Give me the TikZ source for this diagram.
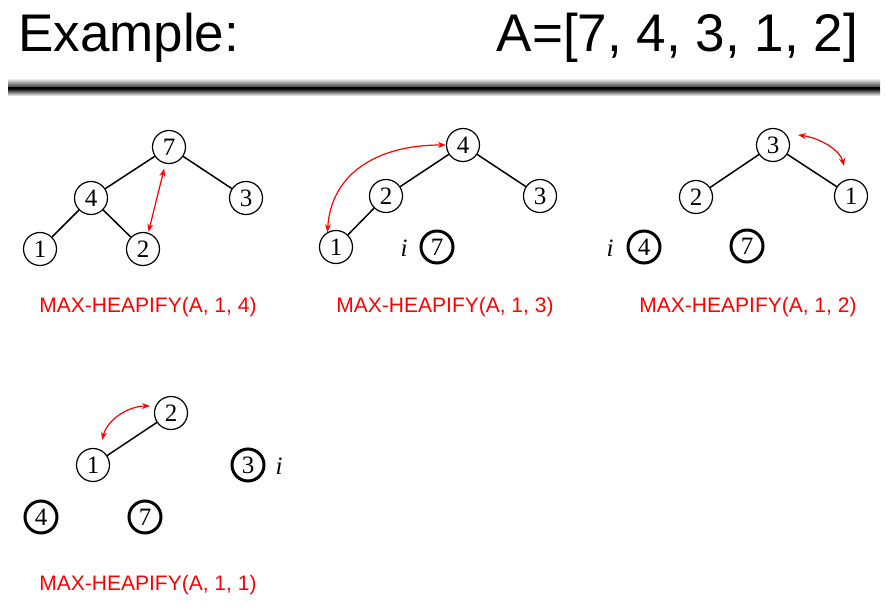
\documentclass[tikz,border=0pt]{standalone}
\usepackage{fontspec}
\setmainfont{Liberation Serif}
\newfontfamily\arialf{Liberation Sans}
\usetikzlibrary{arrows.meta}
\begin{document}
\begin{tikzpicture}[x=1pt,y=-1pt,
  vtx/.style={circle,draw,line width=1.2pt,minimum size=33pt,inner sep=0pt,font=\fontsize{25}{25}\selectfont},
  done/.style={vtx,line width=3pt,minimum size=32pt},
  edge/.style={line width=1.5pt},
  swap/.style={red,line width=1.2pt,{Stealth[length=8pt,width=6pt]}-{Stealth[length=8pt,width=6pt]}},
  lbl/.style={red,anchor=base,font=\arialf\fontsize{21}{21}\selectfont},
  ilbl/.style={font=\itshape\fontsize{25}{25}\selectfont,inner sep=0pt}]
\useasboundingbox (0,0) rectangle (886,607);
% title
\node[anchor=base west,inner sep=0pt,font=\arialf\fontsize{53}{53}\selectfont] (title) at (18,52) {Example:};
\node[anchor=base east,inner sep=0pt,font=\arialf\fontsize{53}{53}\selectfont] (arr) at (858,52) {A=[7, 4, 3, 1, 2]};
% rule
\shade[top color=white,bottom color=black!75] (8,78) rectangle (880,87);
\fill[black] (8,87) rectangle (880,90);
\shade[top color=black!80,bottom color=white] (8,90) rectangle (880,96);
% tree 1
\node[vtx] (t1a) at (169,147) {7};
\node[vtx] (t1b) at (91,198) {4};
\node[vtx] (t1c) at (246,198) {3};
\node[vtx] (t1d) at (40,249) {1};
\node[vtx] (t1e) at (143,249) {2};
\draw[edge] (t1a) -- (t1b);
\draw[edge] (t1a) -- (t1c);
\draw[edge] (t1b) -- (t1d);
\draw[edge] (t1b) -- (t1e);
\draw[swap,shorten <=1pt,shorten >=5pt] (t1e.72) -- (t1a.258);
\node[lbl] (l1) at (148,312) {MAX-HEAPIFY(A, 1, 4)};
% tree 2
\node[vtx] (t2a) at (463,145) {4};
\node[vtx] (t2b) at (386,196) {2};
\node[vtx] (t2c) at (540,196) {3};
\node[vtx] (t2d) at (336,247) {1};
\node[done] (t2e) at (437,247) {7};
\node[ilbl] (i2) at (404,248) {i};
\draw[edge] (t2a) -- (t2b);
\draw[edge] (t2a) -- (t2c);
\draw[edge] (t2b) -- (t2d);
\draw[swap] (t2d.120) .. controls (331,175) and (375,145) .. (t2a.west);
\node[lbl] (l2) at (445,312) {MAX-HEAPIFY(A, 1, 3)};
% tree 3
\node[vtx] (t3a) at (773,145) {3};
\node[vtx] (t3b) at (696,197) {2};
\node[vtx] (t3c) at (851,196) {1};
\node[done] (t3d) at (644,247) {4};
\node[done] (t3e) at (747,246) {7};
\node[ilbl] (i3) at (610,248) {i};
\draw[edge] (t3a) -- (t3b);
\draw[edge] (t3a) -- (t3c);
\coordinate (a3s) at (798,135);
\coordinate (a3e) at (844,166);
\draw[swap] (a3s) .. controls (820,138) and (840,150) .. (a3e);
\node[lbl] (l3) at (748,312) {MAX-HEAPIFY(A, 1, 2)};
% tree 4
\node[vtx] (t4a) at (171,413) {2};
\node[vtx] (t4b) at (93,465) {1};
\node[done] (t4c) at (248,465) {3};
\node[ilbl] (i4) at (279,466) {i};
\node[done] (t4d) at (41,517) {4};
\node[done] (t4e) at (145,517) {7};
\draw[edge] (t4a) -- (t4b);
\coordinate (a4s) at (102,440);
\coordinate (a4e) at (150,406);
\draw[swap] (a4s) .. controls (108,418) and (130,406) .. (a4e);
\node[lbl] (l4) at (148,590) {MAX-HEAPIFY(A, 1, 1)};
\end{tikzpicture}
\end{document}
